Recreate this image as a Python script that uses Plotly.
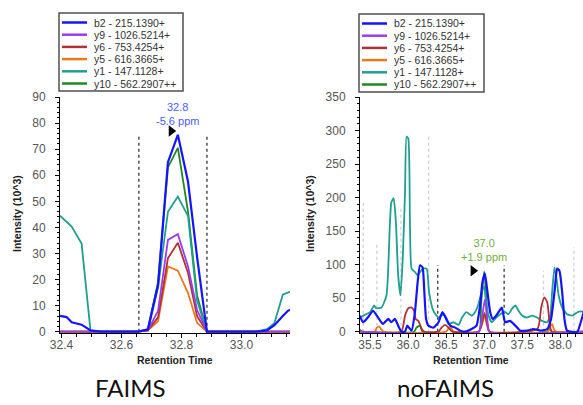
import plotly.graph_objects as go

W, H = 583, 405

# Transition list (legend order) and trace colours
ion_keys = ["b2", "y9", "y6", "y5", "y1", "y10"]
ion_labels = ["b2 - 215.1390+", "y9 - 1026.5214+", "y6 - 753.4254+",
              "y5 - 616.3665+", "y1 - 147.1128+", "y10 - 562.2907++"]
ion_colors = ["#1414ff", "#9b3cf0", "#b03232", "#e8791e", "#1f9e92", "#1f8a24"]
draw_order = ["y10", "y1", "y5", "y6", "y9", "b2"]

# ---------------- FAIMS run ----------------
faims_rt = [32.395, 32.417, 32.434, 32.467, 32.497, 32.530, 32.560, 32.590, 32.620,
            32.655, 32.688, 32.722, 32.755, 32.788, 32.822, 32.852, 32.885, 32.920,
            32.955, 32.990, 33.020, 33.050, 33.085, 33.110, 33.138, 33.155, 33.165]
faims_b2 = [6.1, 5.6, 3.6, 2.7, 0.5, 0, 0, 0, 0,
            0, 0.8, 18.0, 65.0, 75.5, 57.5, 28.8, 0, 0,
            0, 0, 0, 0, 0.5, 2.5, 6.0, 8.0, 8.5]
faims_y9 = [0, 0, 0, 0, 0, 0, 0, 0, 0,
            0, 0.5, 8.0, 35.2, 37.4, 25.0, 8.4, 0, 0,
            0, 0, 0, 0, 0, 0, 0, 0, 0]
faims_y6 = [0, 0, 0, 0, 0, 0, 0, 0, 0,
            0, 0.5, 5.5, 28.2, 34.1, 22.5, 6.0, 0, 0,
            0, 0, 0, 0, 0, 0, 0, 0, 0]
faims_y5 = [0, 0, 0, 0, 0, 0, 0, 0, 0,
            0, 0.5, 4.0, 25.0, 23.4, 14.8, 3.4, 0, 0,
            0, 0, 0, 0, 0, 0, 0, 0, 0]
faims_y1 = [44.5, 42.0, 40.3, 33.8, 0, 0, 0, 0, 0,
            0, 0.5, 17.0, 46.0, 51.8, 44.3, 12.0, 0, 0,
            0, 0, 0, 0, 1.0, 3.3, 14.2, 15.0, 15.5]
faims_y10 = [0, 0, 0, 0, 0, 0, 0, 0, 0,
             0, 1.0, 19.0, 63.0, 70.5, 46.0, 14.0, 0, 0,
             0, 0, 0, 0, 0, 0, 0, 0, 0]
faims_bounds = [32.658, 32.885]
faims_ppm = -5.6

# ---------------- no-FAIMS run ----------------
nofaims_b2_rt = [35.364, 35.41, 35.47, 35.54, 35.606, 35.67, 35.74, 35.78, 35.826, 35.87,
                 35.91, 35.96, 35.99, 36.046, 36.09, 36.126, 36.157, 36.19, 36.214, 36.237,
                 36.267, 36.333, 36.40, 36.45, 36.496, 36.554, 36.62, 36.686, 36.75, 36.836,
                 36.90, 36.946, 36.978, 37.01, 37.044, 37.08, 37.114, 37.16, 37.20, 37.233,
                 37.255, 37.277, 37.34, 37.41, 37.475, 37.56, 37.65, 37.74, 37.83, 37.88,
                 37.925, 37.96, 37.99, 38.026, 38.056, 38.09, 38.225, 38.27, 38.31, 38.33]
nofaims_b2 = [24, 14, 21, 31, 21, 11.5, 19, 14, 19, 9,
              0, 0, 9, 1.5, 29, 74, 99, 96, 59, 19,
              9, 6, 14, 29, 21, 9, 6, 1.5, 0, 4,
              9, 39, 74, 87, 59, 29, 19, 24, 31, 36,
              24, 14, 16, 9, 1.5, 1.5, 4, 1.5, 4, 19,
              59, 94, 91, 59, 19, 1.5, 0, 14, 29, 35]

nofaims_y1_rt = [35.364, 35.43, 35.50, 35.553, 35.58, 35.65, 35.716, 35.76, 35.78, 35.81,
                 35.84, 35.87, 35.90, 35.93, 35.96, 35.98, 36.003, 36.025, 36.046, 36.09,
                 36.126, 36.157, 36.20, 36.245, 36.276, 36.333, 36.40, 36.466, 36.53, 36.598,
                 36.664, 36.71, 36.77, 36.836, 36.88, 36.925, 36.968, 37.00, 37.025, 37.057,
                 37.10, 37.144, 37.21, 37.276, 37.32, 37.365, 37.41, 37.454, 37.50, 37.563,
                 37.63, 37.696, 37.76, 37.828, 37.87, 37.894, 37.925, 37.95, 37.98, 38.026,
                 38.09, 38.16, 38.225, 38.29, 38.33]
nofaims_y1 = [21, 25, 29, 39, 35, 36, 54, 158, 193, 199,
              163, 84, 54, 109, 208, 291, 288, 158, 94, 89,
              84, 89, 94, 94, 59, 31, 21, 26, 11.5, 14,
              10, 21, 29, 24, 29, 41, 59, 68, 45, 24,
              14, 19, 26, 29, 26, 34, 39, 31, 24, 21,
              24, 21, 16, 14, 24, 59, 96, 81, 54, 36,
              26, 24, 29, 30, 28]

nofaims_y6_rt = [35.364, 35.91, 35.96, 36.003, 36.046, 36.08, 36.10, 36.135, 36.18, 36.21,
                 36.40, 36.44, 36.49, 36.53, 36.58, 36.93, 36.97, 37.005, 37.04, 37.07,
                 37.70, 37.75, 37.79, 37.83, 37.86, 37.89, 38.33]
nofaims_y6 = [0, 0, 24, 35, 36, 31, 19, 16, 4, 0,
              0, 6, 10, 6, 0, 0, 12, 28, 12, 0,
              4, 36, 51, 44, 14, 0, 0]

nofaims_y5_rt = [35.364, 35.56, 35.59, 35.62, 35.65, 35.68, 36.50, 36.54, 36.57, 36.60,
                 36.93, 36.97, 37.005, 37.04, 37.07, 37.84, 37.87, 37.894, 37.92, 37.95, 38.33]
nofaims_y5 = [0, 0, 6, 8, 3, 0, 0, 6, 5, 0,
              0, 10, 24, 8, 0, 0, 8, 11.5, 3, 0, 0]

nofaims_y10_rt = [35.364, 35.40, 36.08, 36.11, 36.157, 36.19, 36.93, 36.96, 37.00, 37.03,
                  37.07, 37.83, 37.86, 37.89, 38.33]
nofaims_y10 = [3, 0, 0, 6, 9, 0, 0, 40, 90, 50,
               0, 0, 5, 0, 0]

nofaims_y9_rt = [35.364, 36.93, 36.97, 37.01, 37.04, 37.07, 38.33]
nofaims_y9 = [0, 0, 20, 48, 20, 0, 0]

nofaims_bounds = [36.39, 37.263]
nofaims_other_bounds = [35.41, 35.59, 35.906, 36.27, 37.78, 38.18]
nofaims_other_tops = [196, 134, 188, 293, 91, 126]
nofaims_ppm = 1.9

faims_series = {"b2": (faims_rt, faims_b2), "y9": (faims_rt, faims_y9),
                "y6": (faims_rt, faims_y6), "y5": (faims_rt, faims_y5),
                "y1": (faims_rt, faims_y1), "y10": (faims_rt, faims_y10)}
nofaims_series = {"b2": (nofaims_b2_rt, nofaims_b2), "y9": (nofaims_y9_rt, nofaims_y9),
                  "y6": (nofaims_y6_rt, nofaims_y6), "y5": (nofaims_y5_rt, nofaims_y5),
                  "y1": (nofaims_y1_rt, nofaims_y1), "y10": (nofaims_y10_rt, nofaims_y10)}

color_of = dict(zip(ion_keys, ion_colors))
FONT = "Liberation Sans, Arial, sans-serif"

fig = go.Figure()


def px_x(p):
    return p / W


def px_y(p):
    return 1 - p / H


def add_panel(series, xa, ya, bounds, smooth):
    apex_h = max(series["b2"][1] + series["y10"][1])
    for b in bounds:
        fig.add_trace(go.Scatter(x=[b, b], y=[0, apex_h], mode="lines",
                                 line=dict(color="#333333", width=1.3, dash="dot"),
                                 xaxis=xa, yaxis=ya, showlegend=False, hoverinfo="skip"))
    for key in draw_order:
        rt, inten = series[key]
        line = dict(color=color_of[key], width=2.2 if key == "b2" else 1.8)
        if smooth:
            line.update(shape="spline", smoothing=0.5)
        fig.add_trace(go.Scatter(x=rt, y=inten, mode="lines", line=line,
                                 name=ion_labels[ion_keys.index(key)],
                                 xaxis=xa, yaxis=ya, showlegend=False, hoverinfo="skip"))


# gray integration boundaries of neighbouring peaks (no-FAIMS)
for b, top in zip(nofaims_other_bounds, nofaims_other_tops):
    fig.add_trace(go.Scatter(x=[b, b], y=[0, top], mode="lines",
                             line=dict(color="#cfcfcf", width=1.3, dash="dot"),
                             xaxis="x2", yaxis="y2", showlegend=False, hoverinfo="skip"))

add_panel(faims_series, "x", "y", faims_bounds, False)
add_panel(nofaims_series, "x2", "y2", nofaims_bounds, True)

# apex labels and retention-time markers
faims_apex_i = faims_b2.index(max(faims_b2))
faims_apex_rt, faims_apex_h = faims_rt[faims_apex_i], faims_b2[faims_apex_i]
nf_apex_i = nofaims_y10.index(max(nofaims_y10))
nf_apex_rt, nf_apex_h = nofaims_y10_rt[nf_apex_i], nofaims_y10[nf_apex_i]

fig.add_trace(go.Scatter(x=[faims_apex_rt - 0.022], y=[faims_apex_h + 1.5], mode="markers",
                         marker=dict(symbol="triangle-right", size=10, color="black"),
                         xaxis="x", yaxis="y", showlegend=False, hoverinfo="skip"))
fig.add_trace(go.Scatter(x=[nf_apex_rt - 0.145], y=[nf_apex_h + 1], mode="markers",
                         marker=dict(symbol="triangle-right", size=10, color="black"),
                         xaxis="x2", yaxis="y2", showlegend=False, hoverinfo="skip"))

annotations = [
    dict(x=faims_apex_rt, y=faims_apex_h, xref="x", yref="y", xanchor="center",
         yanchor="bottom", yshift=6,
         text=f"{faims_apex_rt:.1f}<br>{faims_ppm:+.1f} ppm", showarrow=False,
         font=dict(family=FONT, size=11, color="#4a5cff")),
    dict(x=nf_apex_rt, y=nf_apex_h, xref="x2", yref="y2", xanchor="center",
         yanchor="bottom", yshift=6,
         text=f"{nf_apex_rt:.1f}<br>{nofaims_ppm:+.1f} ppm", showarrow=False,
         font=dict(family=FONT, size=11, color="#6fae3a")),
]


def paper_text(cx, cy, text, font, angle=0):
    return dict(x=px_x(cx), y=px_y(cy), xref="paper", yref="paper",
                xanchor="center", yanchor="middle", text=text, textangle=angle,
                showarrow=False, font=font)


# axis titles and panel captions
title_font = dict(family=FONT, size=10.5, color="#222222")
for cx in (17, 310):
    annotations.append(paper_text(cx, 214, "<b>Intensity (10^3)</b>", title_font, -90))
for cx in (175, 471):
    annotations.append(paper_text(cx, 360, "<b>Retention Time</b>", title_font))
for cx, cap in ((130, "FAIMS"), (445, "noFAIMS")):
    annotations.append(paper_text(cx, 387, cap,
                                  dict(family="Lato, sans-serif", size=24, color="#111111")))

# legend boxes
shapes = []
for bx0, bx1, by0, by1 in ((59, 183, 13, 91), (359, 484, 14, 92)):
    shapes.append(dict(type="rect", xref="paper", yref="paper",
                       x0=px_x(bx0), x1=px_x(bx1), y0=px_y(by1), y1=px_y(by0),
                       line=dict(color="#505050", width=1.5), fillcolor="white"))
    for i, (lab, col) in enumerate(zip(ion_labels, ion_colors)):
        yy = by0 + 9.5 + 12.2 * i
        shapes.append(dict(type="line", xref="paper", yref="paper",
                           x0=px_x(bx0 + 3), x1=px_x(bx0 + 28), y0=px_y(yy), y1=px_y(yy),
                           line=dict(color=col, width=2.5)))
        annotations.append(dict(x=px_x(bx0 + 33), y=px_y(yy), xref="paper", yref="paper",
                                xanchor="left", yanchor="middle", text=lab, showarrow=False,
                                font=dict(family=FONT, size=10.5, color="#333333")))

tickfont = dict(family=FONT, size=12, color="#555555")
base = dict(showgrid=False, zeroline=False, tickcolor="black", tickwidth=1, ticklen=4,
            layer="below traces", automargin=False)

ydom = [px_y(333), px_y(97)]
x1dom = [px_x(60), px_x(290)]
x2dom = [px_x(360), 1.0]

x1 = dict(range=[32.395, 33.162], tick0=32.4, dtick=0.2, tickformat=".1f")
x1m = dict(tick0=32.4, dtick=0.05)
y1 = dict(range=[-0.5, 90], tick0=0, dtick=10)
y1m = dict(tick0=0, dtick=2)
x2 = dict(range=[35.368, 38.30], tick0=35.5, dtick=0.5, tickformat=".1f")
x2m = dict(tick0=35.5, dtick=0.1)
y2 = dict(range=[-2, 350], tick0=0, dtick=50)
y2m = dict(tick0=0, dtick=10)


def axis(spec, mspec, dom, anchor, standoff, overlay=None):
    d = dict(base)
    d.update(spec)
    d.update(anchor=anchor)
    if overlay:
        d.update(overlaying=overlay, showline=False, showticklabels=False, ticks="inside")
    else:
        d.update(domain=dom, showline=True, linecolor="black", linewidth=1,
                 ticks="outside", tickfont=tickfont, ticklabelstandoff=standoff)
    m = dict(mspec)
    m.update(ticks="inside" if overlay else "outside", ticklen=2.5, tickcolor="black",
             tickwidth=1, showgrid=False)
    d["minor"] = m
    return d


fig.update_layout(
    width=W, height=H, margin=dict(l=0, r=0, t=0, b=0, autoexpand=False),
    paper_bgcolor="white", plot_bgcolor="white", showlegend=False,
    xaxis=axis(x1, x1m, x1dom, "y", -3),
    yaxis=axis(y1, y1m, ydom, "x", 7),
    xaxis2=axis(x2, x2m, x2dom, "y2", -3),
    yaxis2=axis(y2, y2m, ydom, "x2", 7),
    xaxis3=axis(x1, x1m, x1dom, "y", 0, overlay="x"),
    yaxis3=axis(y1, y1m, ydom, "x", 0, overlay="y"),
    xaxis4=axis(x2, x2m, x2dom, "y2", 0, overlay="x2"),
    yaxis4=axis(y2, y2m, ydom, "x2", 0, overlay="y2"),
    annotations=annotations, shapes=shapes,
)

fig.write_html("out.html")
